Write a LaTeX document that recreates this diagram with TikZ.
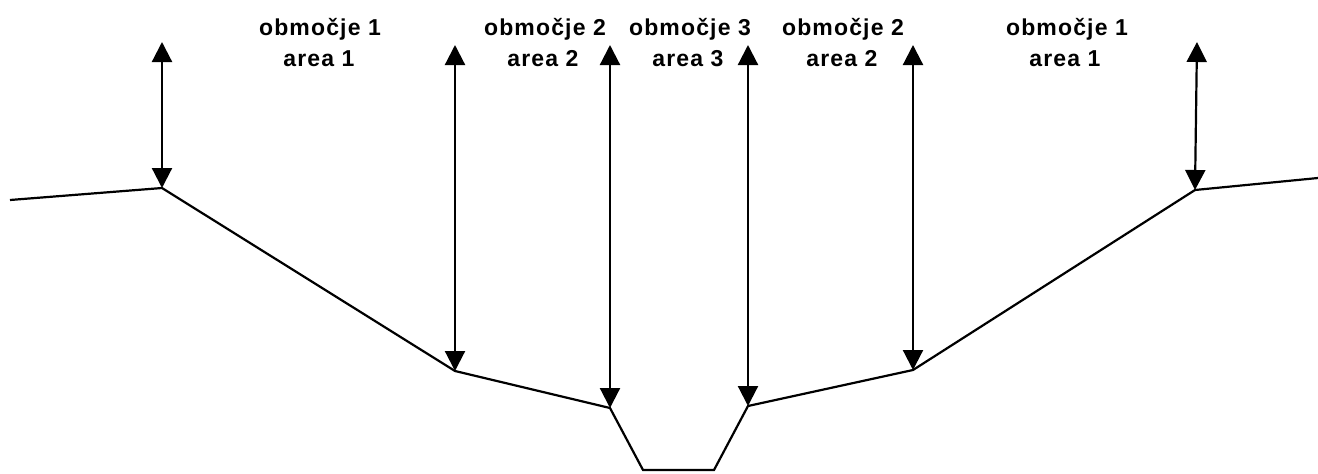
\documentclass[tikz,border=0pt]{standalone}
\usepackage{fontspec}
\setmainfont{Liberation Sans}
\usetikzlibrary{arrows.meta}
\tikzset{
  dimarrow/.style={line width=2.2pt,{Triangle[width=20pt,length=20pt]}-{Triangle[width=20pt,length=20pt]}},
  profile/.style={line width=2.2pt,line join=miter},
  lbl/.style={anchor=base,inner sep=0pt,font=\fontsize{23}{27}\selectfont\bfseries\addfontfeature{LetterSpace=5}}
}
\begin{document}
\begin{tikzpicture}[x=1pt,y=-1pt]
\useasboundingbox (0,0) rectangle (1318,474);
% profile points
\coordinate (p0) at (10,200);
\coordinate (p1) at (162,188);
\coordinate (p2) at (455,371);
\coordinate (p3) at (610,408);
\coordinate (p4) at (643,470);
\coordinate (p5) at (714,470);
\coordinate (p6) at (748,406);
\coordinate (p7) at (913,370);
\coordinate (p8) at (1195,190);
\coordinate (p9) at (1318,178);
\draw[profile] (p0) -- (p1) -- (p2) -- (p3) -- (p4) -- (p5) -- (p6) -- (p7) -- (p8) -- (p9);
% arrow tops
\coordinate (t1) at (162,42);
\coordinate (t2) at (455,45);
\coordinate (t3) at (610,45);
\coordinate (t4) at (748,45);
\coordinate (t5) at (913,45);
\coordinate (t6) at (1197,42);
\draw[dimarrow] (t1) -- (p1);
\draw[dimarrow] (t2) -- (p2);
\draw[dimarrow] (t3) -- (p3);
\draw[dimarrow] (t4) -- (p6);
\draw[dimarrow] (t5) -- (p7);
\draw[dimarrow] (t6) -- (p8);
% labels
\node[lbl] (l1a) at (320,35) {območje 1};
\node[lbl] (l1b) at (319,66.5) {area 1};
\node[lbl] (l2a) at (545,35) {območje 2};
\node[lbl] (l2b) at (543,66.5) {area 2};
\node[lbl] (l3a) at (690,35) {območje 3};
\node[lbl] (l3b) at (688,66.5) {area 3};
\node[lbl] (l4a) at (843,35) {območje 2};
\node[lbl] (l4b) at (842,66.5) {area 2};
\node[lbl] (l5a) at (1067,35) {območje 1};
\node[lbl] (l5b) at (1065,66.5) {area 1};
\end{tikzpicture}
\end{document}
